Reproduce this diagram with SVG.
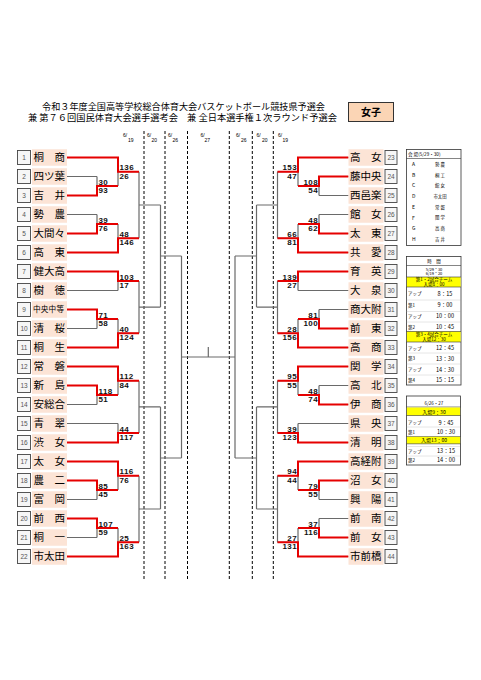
<svg xmlns="http://www.w3.org/2000/svg" width="481" height="680" viewBox="0 0 481 680">
<style>
.g{stroke:#6a6a6a;stroke-width:1.2;fill:none}
.r{stroke:#e60000;stroke-width:2;fill:none}
.d{stroke:#000;stroke-width:1;stroke-dasharray:3 2}
.nb{fill:#fce4d6}
.sb{fill:#f6f6f6;stroke:#444;stroke-width:0.9}
.nm{font-family:"Noto Sans CJK JP","Noto Sans CJK SC",sans-serif;font-size:10.5px;fill:#000}
.sn{font-family:"Liberation Sans",sans-serif;font-size:6.5px;fill:#555;text-anchor:middle}
.sc{font-family:"Liberation Sans",sans-serif;font-size:8px;font-weight:bold;letter-spacing:0.4px;fill:#111}
.se{text-anchor:end}
.jp{font-family:"Noto Sans CJK JP","Noto Sans CJK SC",sans-serif;fill:#000}
.dt{font-family:"Liberation Sans",sans-serif;font-size:5px;fill:#000}
.tb{fill:#fff;stroke:#333;stroke-width:0.8}
.tl{stroke:#333;stroke-width:0.6}
.td{stroke:#999;stroke-width:0.5;stroke-dasharray:1 1}
.ye{fill:#ffff00}
.c{text-anchor:middle}
</style>

<g id="title">
<text class="jp" x="42" y="109.8" font-size="9" textLength="283" lengthAdjust="spacingAndGlyphs">令和３年度全国高等学校総合体育大会バスケットボール競技県予選会</text>
<text class="jp" x="28" y="121.4" font-size="9" textLength="309" lengthAdjust="spacingAndGlyphs">兼 第７６回国民体育大会選手選考会　兼 全日本選手権１次ラウンド予選会</text>
</g>
<g id="category">
<rect x="348.5" y="102.5" width="45" height="19" fill="#fbd5b5" stroke="#333" stroke-width="1"/>
<text class="jp c" x="371" y="116" font-size="10" font-weight="bold">女子</text>
</g>

<g id="dates">
<text class="dt" x="123" y="137">6/</text><text class="dt" x="128" y="141.5">19</text>
<text class="dt" x="147" y="137">6/</text><text class="dt" x="151.5" y="141.5">20</text>
<text class="dt" x="168" y="137">6/</text><text class="dt" x="172.5" y="141.5">26</text>
<text class="dt" x="200.5" y="137">6/</text><text class="dt" x="204.5" y="141.5">27</text>
<text class="dt" x="236" y="137">6/</text><text class="dt" x="241" y="141.5">26</text>
<text class="dt" x="256.5" y="137">6/</text><text class="dt" x="262" y="141.5">20</text>
<text class="dt" x="278" y="137">6/</text><text class="dt" x="282.5" y="141.5">19</text>
<path class="d" d="M144 131V580M165 131V580M187.5 131V580M229.3 131V580M252.3 131V580M273.3 131V580"/>
</g>

<g id="connectors">
<path class="g" d="M67 157.5H118M67 176.5H97M67 195.5H97M67 214.5H97M67 233.5H97M67 252.5H118M67 271.5H118M67 290.5H118M67 309.5H97M67 328.5H97M67 347.5H118M67 366.5H118M67 385.5H97M67 404.5H97M67 423.5H118M67 442.5H118M67 461.5H118M67 480.5H97M67 499.5H97M67 518.5H97M67 537.5H97M67 556.5H118"/>
<path class="g" d="M97 176.5V195.5M97 186H118M97 214.5V233.5M97 224H118M97 309.5V328.5M97 319H118M97 385.5V404.5M97 395H118M97 480.5V499.5M97 490H118M97 518.5V537.5M97 528H118"/>
<path class="g" d="M118 157.5V186M118 171.75H139M118 224V252.5M118 238.25H139M118 271.5V290.5M118 281H139M118 319V347.5M118 333.25H139M118 366.5V395M118 380.75H139M118 423.5V442.5M118 433H139M118 461.5V490M118 475.75H139M118 528V556.5M118 542.25H139"/>
<path class="g" d="M139 171.75V238.25M139 205H160.5M139 281V333.25M139 307.1H160.5M139 380.75V433M139 406.9H160.5M139 475.75V542.25M139 509H160.5"/>
<path class="g" d="M160.5 205V307.1M160.5 256H181.5M160.5 406.9V509M160.5 458H181.5M181.5 256V458M181.5 357H235M235 256V458M208.3 347V357"/>
<path class="g" d="M256.5 205V307.1M256.5 256H235M256.5 406.9V509M256.5 458H235"/>
<path class="g" d="M277.5 171.75V238.25M277.5 205H256.5M277.5 281V333.25M277.5 307.1H256.5M277.5 380.75V433M277.5 406.9H256.5M277.5 475.75V542.25M277.5 509H256.5"/>
<path class="g" d="M298 157.5V186M298 171.75H277.5M298 224V252.5M298 238.25H277.5M298 271.5V290.5M298 281H277.5M298 319V347.5M298 333.25H277.5M298 366.5V395M298 380.75H277.5M298 423.5V442.5M298 433H277.5M298 461.5V490M298 475.75H277.5M298 528V556.5M298 542.25H277.5"/>
<path class="g" d="M319 176.5V195.5M319 186H298M319 214.5V233.5M319 224H298M319 309.5V328.5M319 319H298M319 385.5V404.5M319 395H298M319 480.5V499.5M319 490H298M319 518.5V537.5M319 528H298"/>
<path class="g" d="M348.5 157.5H298M348.5 176.5H319M348.5 195.5H319M348.5 214.5H319M348.5 233.5H319M348.5 252.5H298M348.5 271.5H298M348.5 290.5H298M348.5 309.5H319M348.5 328.5H319M348.5 347.5H298M348.5 366.5H298M348.5 385.5H319M348.5 404.5H319M348.5 423.5H298M348.5 442.5H298M348.5 461.5H298M348.5 480.5H319M348.5 499.5H319M348.5 518.5H319M348.5 537.5H319M348.5 556.5H298"/>
<path class="r" d="M67 195.5H97V186H118M67 157.5H118V171.75H139M67 233.5H97V224H118M67 252.5H118V238.25H139M67 271.5H118V281H139M67 309.5H97V319H118M67 347.5H118V333.25H139M67 366.5H118V380.75H139M67 385.5H97V395H118M67 442.5H118V433H139M67 461.5H118V475.75H139M67 480.5H97V490H118M67 518.5H97V528H118M67 556.5H118V542.25H139"/>
<path class="r" d="M348.5 157.5H298V171.75H277.5M348.5 176.5H319V186H298M348.5 233.5H319V224H298M348.5 252.5H298V238.25H277.5M348.5 271.5H298V281H277.5M348.5 328.5H319V319H298M348.5 347.5H298V333.25H277.5M348.5 366.5H298V380.75H277.5M348.5 404.5H319V395H298M348.5 442.5H298V433H277.5M348.5 461.5H298V475.75H277.5M348.5 480.5H319V490H298M348.5 537.5H319V528H298M348.5 556.5H298V542.25H277.5"/>
</g>

<g id="scores">
<text class="sc" x="98.5" y="184.7">30</text><text class="sc" x="98.5" y="193">93</text>
<text class="sc" x="119.5" y="170.45">136</text><text class="sc" x="119.5" y="178.75">26</text>
<text class="sc" x="98.5" y="222.7">39</text><text class="sc" x="98.5" y="231">76</text>
<text class="sc" x="119.5" y="236.95">48</text><text class="sc" x="119.5" y="245.25">146</text>
<text class="sc" x="119.5" y="279.7">103</text><text class="sc" x="119.5" y="288">17</text>
<text class="sc" x="98.5" y="317.7">71</text><text class="sc" x="98.5" y="326">58</text>
<text class="sc" x="119.5" y="331.95">40</text><text class="sc" x="119.5" y="340.25">124</text>
<text class="sc" x="119.5" y="379.45">112</text><text class="sc" x="119.5" y="387.75">84</text>
<text class="sc" x="98.5" y="393.7">118</text><text class="sc" x="98.5" y="402">51</text>
<text class="sc" x="119.5" y="431.7">44</text><text class="sc" x="119.5" y="440">117</text>
<text class="sc" x="119.5" y="474.45">116</text><text class="sc" x="119.5" y="482.75">76</text>
<text class="sc" x="98.5" y="488.7">85</text><text class="sc" x="98.5" y="497">45</text>
<text class="sc" x="98.5" y="526.7">107</text><text class="sc" x="98.5" y="535">59</text>
<text class="sc" x="119.5" y="540.95">25</text><text class="sc" x="119.5" y="549.25">163</text>
<text class="sc se" x="297" y="170.45">153</text><text class="sc se" x="297" y="178.75">47</text>
<text class="sc se" x="318" y="184.7">108</text><text class="sc se" x="318" y="193">54</text>
<text class="sc se" x="318" y="222.7">48</text><text class="sc se" x="318" y="231">62</text>
<text class="sc se" x="297" y="236.95">66</text><text class="sc se" x="297" y="245.25">81</text>
<text class="sc se" x="297" y="279.7">139</text><text class="sc se" x="297" y="288">27</text>
<text class="sc se" x="318" y="317.7">81</text><text class="sc se" x="318" y="326">100</text>
<text class="sc se" x="297" y="331.95">28</text><text class="sc se" x="297" y="340.25">156</text>
<text class="sc se" x="297" y="379.45">95</text><text class="sc se" x="297" y="387.75">55</text>
<text class="sc se" x="318" y="393.7">48</text><text class="sc se" x="318" y="402">74</text>
<text class="sc se" x="297" y="431.7">39</text><text class="sc se" x="297" y="440">123</text>
<text class="sc se" x="297" y="474.45">94</text><text class="sc se" x="297" y="482.75">44</text>
<text class="sc se" x="318" y="488.7">79</text><text class="sc se" x="318" y="497">55</text>
<text class="sc se" x="318" y="526.7">37</text><text class="sc se" x="318" y="535">116</text>
<text class="sc se" x="297" y="540.95">27</text><text class="sc se" x="297" y="549.25">131</text>
</g>

<g id="t1"><rect class="sb" x="17.5" y="150.5" width="13" height="14"/><text class="sn" x="24" y="159.8">1</text><rect class="nb" x="32" y="149.25" width="35" height="16.5"/><text class="nm" x="33.5" y="161.3">桐　商</text></g>
<g id="t2"><rect class="sb" x="17.5" y="169.5" width="13" height="14"/><text class="sn" x="24" y="178.8">2</text><rect class="nb" x="32" y="168.25" width="35" height="16.5"/><text class="nm" x="33.5" y="180.3">四ツ葉</text></g>
<g id="t3"><rect class="sb" x="17.5" y="188.5" width="13" height="14"/><text class="sn" x="24" y="197.8">3</text><rect class="nb" x="32" y="187.25" width="35" height="16.5"/><text class="nm" x="33.5" y="199.3">吉　井</text></g>
<g id="t4"><rect class="sb" x="17.5" y="207.5" width="13" height="14"/><text class="sn" x="24" y="216.8">4</text><rect class="nb" x="32" y="206.25" width="35" height="16.5"/><text class="nm" x="33.5" y="218.3">勢　農</text></g>
<g id="t5"><rect class="sb" x="17.5" y="226.5" width="13" height="14"/><text class="sn" x="24" y="235.8">5</text><rect class="nb" x="32" y="225.25" width="35" height="16.5"/><text class="nm" x="33.5" y="237.3">大間々</text></g>
<g id="t6"><rect class="sb" x="17.5" y="245.5" width="13" height="14"/><text class="sn" x="24" y="254.8">6</text><rect class="nb" x="32" y="244.25" width="35" height="16.5"/><text class="nm" x="33.5" y="256.3">高　東</text></g>
<g id="t7"><rect class="sb" x="17.5" y="264.5" width="13" height="14"/><text class="sn" x="24" y="273.8">7</text><rect class="nb" x="32" y="263.25" width="35" height="16.5"/><text class="nm" x="33.5" y="275.3">健大高</text></g>
<g id="t8"><rect class="sb" x="17.5" y="283.5" width="13" height="14"/><text class="sn" x="24" y="292.8">8</text><rect class="nb" x="32" y="282.25" width="35" height="16.5"/><text class="nm" x="33.5" y="294.3">樹　徳</text></g>
<g id="t9"><rect class="sb" x="17.5" y="302.5" width="13" height="14"/><text class="sn" x="24" y="311.8">9</text><rect class="nb" x="32" y="301.25" width="35" height="16.5"/><text class="nm" x="33" y="312.4" style="font-size:7.6px" textLength="31" lengthAdjust="spacing">中央中等</text></g>
<g id="t10"><rect class="sb" x="17.5" y="321.5" width="13" height="14"/><text class="sn" x="24" y="330.8">10</text><rect class="nb" x="32" y="320.25" width="35" height="16.5"/><text class="nm" x="33.5" y="332.3">清　桜</text></g>
<g id="t11"><rect class="sb" x="17.5" y="340.5" width="13" height="14"/><text class="sn" x="24" y="349.8">11</text><rect class="nb" x="32" y="339.25" width="35" height="16.5"/><text class="nm" x="33.5" y="351.3">桐　生</text></g>
<g id="t12"><rect class="sb" x="17.5" y="359.5" width="13" height="14"/><text class="sn" x="24" y="368.8">12</text><rect class="nb" x="32" y="358.25" width="35" height="16.5"/><text class="nm" x="33.5" y="370.3">常　磐</text></g>
<g id="t13"><rect class="sb" x="17.5" y="378.5" width="13" height="14"/><text class="sn" x="24" y="387.8">13</text><rect class="nb" x="32" y="377.25" width="35" height="16.5"/><text class="nm" x="33.5" y="389.3">新　島</text></g>
<g id="t14"><rect class="sb" x="17.5" y="397.5" width="13" height="14"/><text class="sn" x="24" y="406.8">14</text><rect class="nb" x="32" y="396.25" width="35" height="16.5"/><text class="nm" x="33.5" y="408.3">安総合</text></g>
<g id="t15"><rect class="sb" x="17.5" y="416.5" width="13" height="14"/><text class="sn" x="24" y="425.8">15</text><rect class="nb" x="32" y="415.25" width="35" height="16.5"/><text class="nm" x="33.5" y="427.3">青　翠</text></g>
<g id="t16"><rect class="sb" x="17.5" y="435.5" width="13" height="14"/><text class="sn" x="24" y="444.8">16</text><rect class="nb" x="32" y="434.25" width="35" height="16.5"/><text class="nm" x="33.5" y="446.3">渋　女</text></g>
<g id="t17"><rect class="sb" x="17.5" y="454.5" width="13" height="14"/><text class="sn" x="24" y="463.8">17</text><rect class="nb" x="32" y="453.25" width="35" height="16.5"/><text class="nm" x="33.5" y="465.3">太　女</text></g>
<g id="t18"><rect class="sb" x="17.5" y="473.5" width="13" height="14"/><text class="sn" x="24" y="482.8">18</text><rect class="nb" x="32" y="472.25" width="35" height="16.5"/><text class="nm" x="33.5" y="484.3">農　二</text></g>
<g id="t19"><rect class="sb" x="17.5" y="492.5" width="13" height="14"/><text class="sn" x="24" y="501.8">19</text><rect class="nb" x="32" y="491.25" width="35" height="16.5"/><text class="nm" x="33.5" y="503.3">富　岡</text></g>
<g id="t20"><rect class="sb" x="17.5" y="511.5" width="13" height="14"/><text class="sn" x="24" y="520.8">20</text><rect class="nb" x="32" y="510.25" width="35" height="16.5"/><text class="nm" x="33.5" y="522.3">前　西</text></g>
<g id="t21"><rect class="sb" x="17.5" y="530.5" width="13" height="14"/><text class="sn" x="24" y="539.8">21</text><rect class="nb" x="32" y="529.25" width="35" height="16.5"/><text class="nm" x="33.5" y="541.3">桐　一</text></g>
<g id="t22"><rect class="sb" x="17.5" y="549.5" width="13" height="14"/><text class="sn" x="24" y="558.8">22</text><rect class="nb" x="32" y="548.25" width="35" height="16.5"/><text class="nm" x="33.5" y="560.3">市太田</text></g>

<g id="t23"><rect class="nb" x="348.5" y="149.25" width="35" height="16.5"/><text class="nm" x="350" y="161.3">高　女</text><rect class="sb" x="385" y="150.5" width="12" height="14"/><text class="sn" x="391" y="159.8">23</text></g>
<g id="t24"><rect class="nb" x="348.5" y="168.25" width="35" height="16.5"/><text class="nm" x="350" y="180.3">藤中央</text><rect class="sb" x="385" y="169.5" width="12" height="14"/><text class="sn" x="391" y="178.8">24</text></g>
<g id="t25"><rect class="nb" x="348.5" y="187.25" width="35" height="16.5"/><text class="nm" x="350" y="199.3">西邑楽</text><rect class="sb" x="385" y="188.5" width="12" height="14"/><text class="sn" x="391" y="197.8">25</text></g>
<g id="t26"><rect class="nb" x="348.5" y="206.25" width="35" height="16.5"/><text class="nm" x="350" y="218.3">館　女</text><rect class="sb" x="385" y="207.5" width="12" height="14"/><text class="sn" x="391" y="216.8">26</text></g>
<g id="t27"><rect class="nb" x="348.5" y="225.25" width="35" height="16.5"/><text class="nm" x="350" y="237.3">太　東</text><rect class="sb" x="385" y="226.5" width="12" height="14"/><text class="sn" x="391" y="235.8">27</text></g>
<g id="t28"><rect class="nb" x="348.5" y="244.25" width="35" height="16.5"/><text class="nm" x="350" y="256.3">共　愛</text><rect class="sb" x="385" y="245.5" width="12" height="14"/><text class="sn" x="391" y="254.8">28</text></g>
<g id="t29"><rect class="nb" x="348.5" y="263.25" width="35" height="16.5"/><text class="nm" x="350" y="275.3">育　英</text><rect class="sb" x="385" y="264.5" width="12" height="14"/><text class="sn" x="391" y="273.8">29</text></g>
<g id="t30"><rect class="nb" x="348.5" y="282.25" width="35" height="16.5"/><text class="nm" x="350" y="294.3">大　泉</text><rect class="sb" x="385" y="283.5" width="12" height="14"/><text class="sn" x="391" y="292.8">30</text></g>
<g id="t31"><rect class="nb" x="348.5" y="301.25" width="35" height="16.5"/><text class="nm" x="350" y="313.3">商大附</text><rect class="sb" x="385" y="302.5" width="12" height="14"/><text class="sn" x="391" y="311.8">31</text></g>
<g id="t32"><rect class="nb" x="348.5" y="320.25" width="35" height="16.5"/><text class="nm" x="350" y="332.3">前　東</text><rect class="sb" x="385" y="321.5" width="12" height="14"/><text class="sn" x="391" y="330.8">32</text></g>
<g id="t33"><rect class="nb" x="348.5" y="339.25" width="35" height="16.5"/><text class="nm" x="350" y="351.3">高　商</text><rect class="sb" x="385" y="340.5" width="12" height="14"/><text class="sn" x="391" y="349.8">33</text></g>
<g id="t34"><rect class="nb" x="348.5" y="358.25" width="35" height="16.5"/><text class="nm" x="350" y="370.3">関　学</text><rect class="sb" x="385" y="359.5" width="12" height="14"/><text class="sn" x="391" y="368.8">34</text></g>
<g id="t35"><rect class="nb" x="348.5" y="377.25" width="35" height="16.5"/><text class="nm" x="350" y="389.3">高　北</text><rect class="sb" x="385" y="378.5" width="12" height="14"/><text class="sn" x="391" y="387.8">35</text></g>
<g id="t36"><rect class="nb" x="348.5" y="396.25" width="35" height="16.5"/><text class="nm" x="350" y="408.3">伊　商</text><rect class="sb" x="385" y="397.5" width="12" height="14"/><text class="sn" x="391" y="406.8">36</text></g>
<g id="t37"><rect class="nb" x="348.5" y="415.25" width="35" height="16.5"/><text class="nm" x="350" y="427.3">県　央</text><rect class="sb" x="385" y="416.5" width="12" height="14"/><text class="sn" x="391" y="425.8">37</text></g>
<g id="t38"><rect class="nb" x="348.5" y="434.25" width="35" height="16.5"/><text class="nm" x="350" y="446.3">清　明</text><rect class="sb" x="385" y="435.5" width="12" height="14"/><text class="sn" x="391" y="444.8">38</text></g>
<g id="t39"><rect class="nb" x="348.5" y="453.25" width="35" height="16.5"/><text class="nm" x="350" y="465.3">高経附</text><rect class="sb" x="385" y="454.5" width="12" height="14"/><text class="sn" x="391" y="463.8">39</text></g>
<g id="t40"><rect class="nb" x="348.5" y="472.25" width="35" height="16.5"/><text class="nm" x="350" y="484.3">沼　女</text><rect class="sb" x="385" y="473.5" width="12" height="14"/><text class="sn" x="391" y="482.8">40</text></g>
<g id="t41"><rect class="nb" x="348.5" y="491.25" width="35" height="16.5"/><text class="nm" x="350" y="503.3">興　陽</text><rect class="sb" x="385" y="492.5" width="12" height="14"/><text class="sn" x="391" y="501.8">41</text></g>
<g id="t42"><rect class="nb" x="348.5" y="510.25" width="35" height="16.5"/><text class="nm" x="350" y="522.3">前　南</text><rect class="sb" x="385" y="511.5" width="12" height="14"/><text class="sn" x="391" y="520.8">42</text></g>
<g id="t43"><rect class="nb" x="348.5" y="529.25" width="35" height="16.5"/><text class="nm" x="350" y="541.3">前　女</text><rect class="sb" x="385" y="530.5" width="12" height="14"/><text class="sn" x="391" y="539.8">43</text></g>
<g id="t44"><rect class="nb" x="348.5" y="548.25" width="35" height="16.5"/><text class="nm" x="350" y="560.3">市前橋</text><rect class="sb" x="385" y="549.5" width="12" height="14"/><text class="sn" x="391" y="558.8">44</text></g>

<g id="venues">
<rect class="tb" x="406.5" y="149.5" width="54.5" height="96"/>
<line class="tl" x1="406.5" y1="158.5" x2="461" y2="158.5"/>
<text class="jp" x="408" y="156" font-size="4.6">会 場(5/29・30)</text>
<g class="jp" font-size="5">
<text x="412" y="166">A</text><text x="412" y="176.7">B</text><text x="412" y="187.4">C</text><text x="412" y="198.1">D</text><text x="412" y="208.8">E</text><text x="412" y="219.5">F</text><text x="412" y="230.2">G</text><text x="412" y="240.9">H</text>
</g>
<g class="jp c" font-size="4.4">
<text x="440" y="165.9">勢 農</text><text x="440" y="176.6">桐 工</text><text x="440" y="187.3">館 女</text><text x="440" y="198">市太田</text><text x="440" y="208.7">常 磐</text><text x="440" y="219.4">関 学</text><text x="440" y="230.1">高 商</text><text x="440" y="240.8">吉 井</text>
</g>
</g>

<g id="schedule1">
<rect class="tb" x="406.5" y="256.5" width="54.5" height="128.5"/>
<text class="jp c" x="434" y="263" font-size="4.5">時　間</text>
<line class="tl" x1="406.5" y1="265.5" x2="461" y2="265.5"/>
<text class="jp c" x="434" y="270.6" font-size="4">5/29・30</text>
<text class="jp c" x="434" y="275.2" font-size="4">6/19・20</text>
<rect class="ye" x="406.9" y="277" width="53.7" height="10"/>
<line class="tl" x1="406.5" y1="277" x2="461" y2="277"/>
<text class="jp c" x="434" y="281.4" font-size="4.5">第1・2試合チーム</text>
<text class="jp c" x="434" y="286" font-size="4.5">入場8：00</text>
<line class="tl" x1="406.5" y1="287" x2="461" y2="287"/>
<rect class="ye" x="406.9" y="331.5" width="53.7" height="10.5"/>
<line class="tl" x1="406.5" y1="331.5" x2="461" y2="331.5"/>
<text class="jp c" x="434" y="335.9" font-size="4.5">第3・4試合チーム</text>
<text class="jp c" x="434" y="340.8" font-size="4.5">入場12：30</text>
<line class="tl" x1="406.5" y1="342" x2="461" y2="342"/>
<path class="td" d="M406.5 300H461M406.5 311.5H461M406.5 322H461M406.5 353H461M406.5 364H461M406.5 375H461"/>
<g class="jp" font-size="4.5">
<text x="408" y="295.3">アップ</text><text x="408" y="307">第1</text><text x="408" y="318">アップ</text><text x="408" y="328.7">第2</text>
<text x="408" y="349.7">アップ</text><text x="408" y="360.3">第3</text><text x="408" y="371.3">アップ</text><text x="408" y="382">第4</text>
</g>
<g class="jp c" font-size="5.6">
<text x="445" y="295.6">8：15</text><text x="445" y="307.3">9：00</text><text x="445" y="318.3">10：00</text><text x="445" y="329">10：45</text>
<text x="445" y="350">12：45</text><text x="445" y="360.6">13：30</text><text x="445" y="371.6">14：30</text><text x="445" y="382.3">15：15</text>
</g>
</g>

<g id="schedule2">
<rect class="tb" x="406.5" y="396" width="54" height="69"/>
<text class="jp c" x="434" y="404.5" font-size="4.5">6/26・27</text>
<line class="tl" x1="406.5" y1="407" x2="460.5" y2="407"/>
<rect class="ye" x="406.9" y="407.5" width="53.2" height="8"/>
<text class="jp c" x="434" y="413.6" font-size="5">入場9：30</text>
<line class="tl" x1="406.5" y1="415.5" x2="460.5" y2="415.5"/>
<path class="td" d="M406.5 427H460.5M406.5 446.5H460.5M406.5 456H460.5"/>
<line class="tl" x1="406.5" y1="436.5" x2="460.5" y2="436.5"/>
<rect class="ye" x="406.9" y="436.8" width="53.2" height="7"/>
<text class="jp c" x="434" y="442.3" font-size="5">入場13：00</text>
<line class="tl" x1="406.5" y1="443.8" x2="460.5" y2="443.8"/>
<g class="jp" font-size="4.5">
<text x="408" y="424.3">アップ</text><text x="408" y="433.8">第1</text><text x="408" y="452.8">アップ</text><text x="408" y="462.2">第2</text>
</g>
<g class="jp c" font-size="5.6">
<text x="446" y="424.5">9：45</text><text x="446" y="434">10：30</text><text x="446" y="453">13：15</text><text x="446" y="462.4">14：00</text>
</g>
</g>
</svg>
